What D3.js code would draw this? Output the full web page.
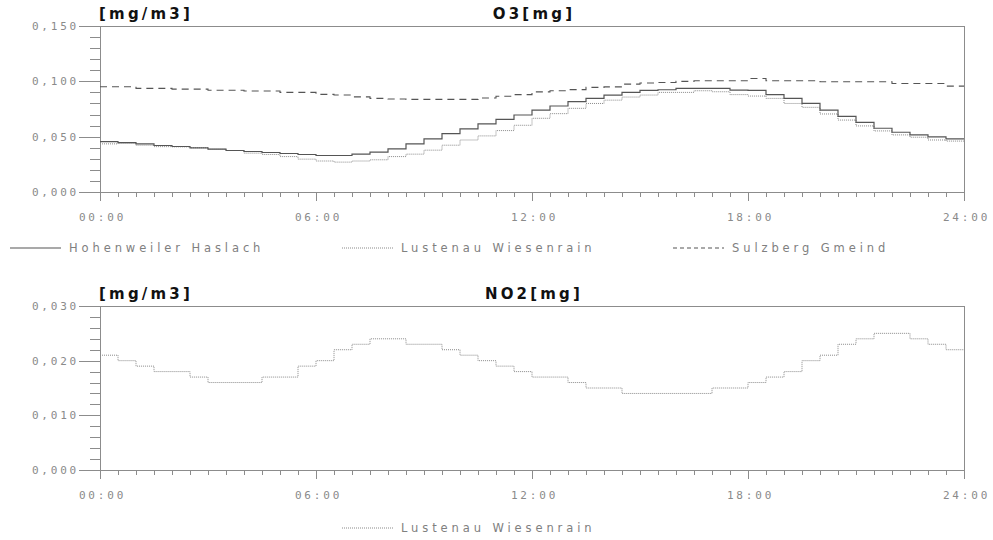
<!DOCTYPE html>
<html>
<head>
<meta charset="utf-8">
<script src="https://cdn.jsdelivr.net/npm/d3@7"></script>
<style>
  body { margin: 0; background: #fff; }
  svg { display: block; }
  .axis path, .axis line { stroke: #8c8c8c; shape-rendering: crispEdges; }
  .axis text { font-family: "DejaVu Sans Mono", monospace; font-size: 11px; fill: #8a8a8a; letter-spacing: 2.8px; }
  .title { font-family: "DejaVu Sans", sans-serif; font-weight: bold; font-size: 15px; letter-spacing: 3.2px; fill: #111; }
  .legend text { font-family: "DejaVu Sans", sans-serif; font-size: 11.5px; fill: #808080; letter-spacing: 3.9px; }
  .frame { stroke: #8c8c8c; shape-rendering: crispEdges; }
</style>
</head>
<body>
<svg width="993" height="540"></svg>
<script>
// half hour steps of the day
const halfHours = [0, 0.5, 1, 1.5, 2, 2.5, 3, 3.5, 4, 4.5, 5, 5.5, 6, 6.5, 7, 7.5,
  8, 8.5, 9, 9.5, 10, 10.5, 11, 11.5, 12, 12.5, 13, 13.5, 14, 14.5, 15, 15.5,
  16, 16.5, 17, 17.5, 18, 18.5, 19, 19.5, 20, 20.5, 21, 21.5, 22, 22.5, 23, 23.5];

const timeTicks = [0, 6, 12, 18, 24];
const timeLabels = ['00:00', '06:00', '12:00', '18:00', '24:00'];

const o3Ticks = [0, 0.05, 0.1, 0.15];
const no2Ticks = [0, 0.01, 0.02, 0.03];

const o3Hohenweiler = [0.0456, 0.0447, 0.0435, 0.0420, 0.0411, 0.0399, 0.0387, 0.0375,
  0.0366, 0.0357, 0.0348, 0.0339, 0.0330, 0.0330, 0.0342, 0.0360,
  0.0390, 0.0435, 0.0480, 0.0528, 0.0570, 0.0615, 0.0657, 0.0696,
  0.0740, 0.0777, 0.0816, 0.0846, 0.0876, 0.0900, 0.0918, 0.0924,
  0.0936, 0.0936, 0.0936, 0.0920, 0.0918, 0.0880, 0.0846, 0.0800,
  0.0740, 0.0684, 0.0630, 0.0576, 0.0540, 0.0516, 0.0498, 0.0480];

const o3Lustenau = [0.0435, 0.0440, 0.0423, 0.0410, 0.0408, 0.0400, 0.0387, 0.0375,
  0.0351, 0.0339, 0.0320, 0.0297, 0.0280, 0.0270, 0.0280, 0.0291,
  0.0320, 0.0342, 0.0378, 0.0423, 0.0470, 0.0507, 0.0555, 0.0603,
  0.0666, 0.0708, 0.0756, 0.0800, 0.0830, 0.0858, 0.0876, 0.0900,
  0.0900, 0.0915, 0.0906, 0.0880, 0.0867, 0.0846, 0.0800, 0.0765,
  0.0705, 0.0650, 0.0597, 0.0552, 0.0516, 0.0495, 0.0470, 0.0460];

const o3Sulzberg = [0.0951, 0.0951, 0.0936, 0.0936, 0.0930, 0.0930, 0.0920, 0.0920,
  0.0912, 0.0912, 0.0900, 0.0900, 0.0882, 0.0876, 0.0860, 0.0846,
  0.0840, 0.0837, 0.0837, 0.0837, 0.0837, 0.0850, 0.0865, 0.0880,
  0.0905, 0.0915, 0.0925, 0.0945, 0.0950, 0.0975, 0.0985, 0.0990,
  0.1000, 0.1005, 0.1005, 0.1005, 0.1026, 0.1005, 0.1005, 0.1005,
  0.0996, 0.0996, 0.0996, 0.0996, 0.0980, 0.0980, 0.0980, 0.0957];

const no2Lustenau = [0.021, 0.020, 0.019, 0.018, 0.018, 0.017, 0.016, 0.016,
  0.016, 0.017, 0.017, 0.019, 0.020, 0.022, 0.023, 0.024,
  0.024, 0.023, 0.023, 0.022, 0.021, 0.020, 0.019, 0.018,
  0.017, 0.017, 0.016, 0.015, 0.015, 0.014, 0.014, 0.014,
  0.014, 0.014, 0.015, 0.015, 0.016, 0.017, 0.018, 0.020,
  0.021, 0.023, 0.024, 0.025, 0.025, 0.024, 0.023, 0.022];

const svg = d3.select('svg');
const x = d3.scaleLinear().domain([0, 24]).range([100, 964]);
const fmt = d3.formatLocale({ decimal: ',', thousands: '.', grouping: [3], currency: ['', ''] }).format('.3f');

const styles = {
  solid: { stroke: '#555', dash: null, legendDash: null, width: 1.2 },
  dotted: { stroke: '#8a8a8a', dash: '1,1', legendDash: '1,1', width: 1 },
  dashed: { stroke: '#555', dash: '7,5', legendDash: '4,3', width: 1.1 }
};

function stepPoints(vals) {
  const pts = halfHours.map((h, i) => [h, vals[i]]);
  pts.push([24, vals[vals.length - 1]]);
  return pts;
}

function drawPanel(top, bottom, ticks, minorStep, name, series) {
  const yMax = ticks[ticks.length - 1];
  const y = d3.scaleLinear().domain([0, yMax]).range([bottom, top]);

  // frame: top and right side
  svg.append('line').attr('class', 'frame')
    .attr('x1', 100).attr('x2', 964).attr('y1', top).attr('y2', top);
  svg.append('line').attr('class', 'frame')
    .attr('x1', 964).attr('x2', 964).attr('y1', top).attr('y2', bottom);

  // y minor ticks
  svg.append('g').attr('class', 'axis')
    .attr('transform', 'translate(100,0)')
    .call(d3.axisLeft(y).tickValues(d3.range(0, yMax + minorStep / 2, minorStep))
      .tickSize(10).tickSizeOuter(0).tickFormat(''))
    .select('.domain').remove();

  // y major ticks
  svg.append('g').attr('class', 'axis')
    .attr('transform', 'translate(100,0)')
    .call(d3.axisLeft(y).tickValues(ticks).tickSize(21).tickSizeOuter(0)
      .tickPadding(0).tickFormat(fmt));

  // x minor ticks
  svg.append('g').attr('class', 'axis')
    .attr('transform', `translate(0,${bottom})`)
    .call(d3.axisBottom(x).tickValues(d3.range(0, 24.25, 0.5))
      .tickSize(5).tickSizeOuter(0).tickFormat(''))
    .select('.domain').remove();

  // x major ticks
  svg.append('g').attr('class', 'axis')
    .attr('transform', `translate(0,${bottom})`)
    .call(d3.axisBottom(x).tickValues(timeTicks).tickSize(9).tickSizeOuter(0)
      .tickPadding(12).tickFormat((d, i) => timeLabels[i]))
    .selectAll('text').attr('dx', 2);

  svg.append('text').attr('class', 'title')
    .attr('x', 99).attr('y', top - 7).text('[mg/m3]');
  svg.append('text').attr('class', 'title')
    .attr('x', (x(0) + x(24)) / 2 + 2).attr('y', top - 7)
    .attr('text-anchor', 'middle').text(name);

  const line = d3.line()
    .x(d => x(d[0]))
    .y(d => y(d[1]))
    .curve(d3.curveStepAfter);

  series.forEach(s => {
    const st = styles[s.style];
    svg.append('path')
      .attr('d', line(stepPoints(s.values)))
      .attr('fill', 'none')
      .attr('stroke', st.stroke)
      .attr('stroke-width', st.width)
      .attr('stroke-dasharray', st.dash);
  });
}

function drawLegend(yPos, items) {
  const g = svg.append('g').attr('class', 'legend');
  items.forEach(it => {
    const st = styles[it.style];
    g.append('line')
      .attr('x1', it.x).attr('x2', it.x + 51)
      .attr('y1', yPos - 4).attr('y2', yPos - 4)
      .attr('stroke', st.stroke)
      .attr('stroke-width', st.width)
      .attr('stroke-dasharray', st.legendDash);
    g.append('text').attr('x', it.x + 59).attr('y', yPos).text(it.name);
  });
}

drawPanel(26, 192, o3Ticks, 0.01, 'O3[mg]', [
  { values: o3Sulzberg, style: 'dashed' },
  { values: o3Lustenau, style: 'dotted' },
  { values: o3Hohenweiler, style: 'solid' }
]);

drawLegend(252, [
  { name: 'Hohenweiler Haslach', style: 'solid', x: 10 },
  { name: 'Lustenau Wiesenrain', style: 'dotted', x: 342 },
  { name: 'Sulzberg Gmeind', style: 'dashed', x: 673 }
]);

drawPanel(306, 470, no2Ticks, 0.002, 'NO2[mg]', [
  { values: no2Lustenau, style: 'dotted' }
]);

drawLegend(532, [
  { name: 'Lustenau Wiesenrain', style: 'dotted', x: 342 }
]);
</script>
</body>
</html>
